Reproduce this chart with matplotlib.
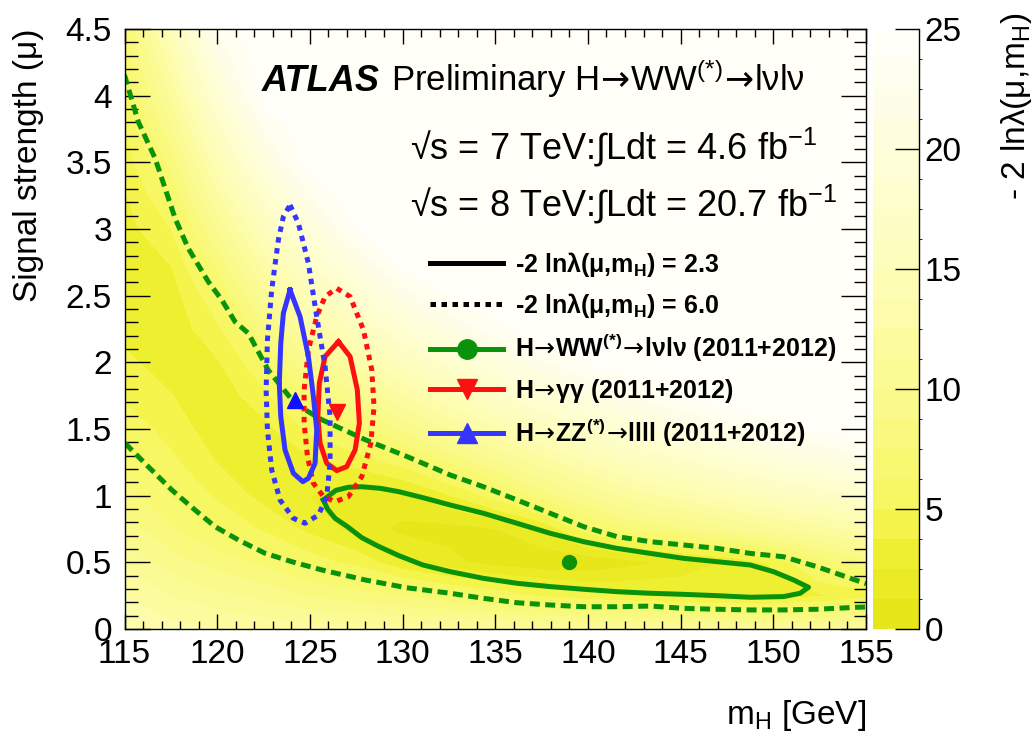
import numpy as np
import matplotlib
matplotlib.use('Agg')
import matplotlib.pyplot as plt
from matplotlib.colors import LinearSegmentedColormap, BoundaryNorm
from matplotlib.lines import Line2D
from matplotlib.ticker import MultipleLocator, FuncFormatter

plt.rcParams['font.family'] = ['Liberation Sans', 'DejaVu Sans']
plt.rcParams['mathtext.fontset'] = 'custom'
plt.rcParams['mathtext.rm'] = 'Liberation Sans'
plt.rcParams['mathtext.it'] = 'Liberation Sans:italic'
plt.rcParams['mathtext.bf'] = 'Liberation Sans:bold'
plt.rcParams['mathtext.sf'] = 'DejaVu Sans'

# -2 ln lambda surface, one list per m_H column
mh_grid = [115, 117.5, 120, 122.5, 125, 127.5, 130, 132.5, 135, 137.5,
           140, 142.5, 145, 147.5, 150, 152.5, 155]
mu_grid = [0, 0.25, 0.5, 0.75, 1.0, 1.25, 1.5, 1.75, 2.0, 2.25, 2.5,
           2.75, 3.0, 3.25, 3.5, 3.75, 4.0, 4.25, 4.5]
nll_columns = [
    [14.0, 12.5, 11.0, 9.4, 8.0, 6.8, 5.7, 4.8, 4.0, 3.4, 3.1, 3.0, 3.2, 3.6, 4.2, 4.9, 5.6, 6.3, 7.2],
    [13.0, 11.2, 9.3, 7.6, 6.2, 5.3, 4.5, 3.8, 3.2, 2.9, 3.1, 3.8, 5.0, 6.3, 7.9, 9.6, 11.4, 13.2, 15.0],
    [12.5, 10.3, 8.2, 6.1, 4.8, 3.7, 3.0, 2.9, 3.6, 4.7, 6.0, 7.9, 10.0, 12.2, 14.4, 16.6, 18.8, 21.0, 23.0],
    [12.0, 9.6, 7.1, 4.8, 3.3, 2.7, 3.3, 4.6, 6.1, 8.3, 10.6, 13.0, 15.4, 17.8, 20.2, 22.5, 24.8, 27.0, 27.0],
    [11.8, 8.6, 5.6, 3.4, 2.5, 3.4, 5.3, 7.5, 10.0, 12.5, 15.0, 17.5, 20.0, 22.4, 24.8, 27.0, 27.0, 27.0, 27.0],
    [11.7, 8.0, 4.6, 2.0, 1.6, 4.2, 6.9, 9.9, 12.8, 15.6, 18.4, 21.2, 24.0, 26.5, 27.0, 27.0, 27.0, 27.0, 27.0],
    [11.6, 7.4, 2.8, 0.9, 2.2, 5.4, 9.0, 12.4, 15.6, 18.7, 21.7, 24.5, 27.0, 27.0, 27.0, 27.0, 27.0, 27.0, 27.0],
    [11.5, 6.6, 1.6, 0.8, 3.6, 7.5, 11.2, 14.7, 18.0, 21.1, 24.0, 26.8, 27.0, 27.0, 27.0, 27.0, 27.0, 27.0, 27.0],
    [11.4, 5.8, 0.7, 1.2, 5.5, 9.6, 13.4, 17.0, 20.3, 23.4, 26.3, 27.0, 27.0, 27.0, 27.0, 27.0, 27.0, 27.0, 27.0],
    [11.3, 4.8, 0.2, 2.5, 8.0, 11.8, 15.5, 19.0, 22.2, 25.2, 27.0, 27.0, 27.0, 27.0, 27.0, 27.0, 27.0, 27.0, 27.0],
    [11.2, 4.2, 0.05, 5.8, 10.0, 13.8, 17.4, 20.8, 24.0, 27.0, 27.0, 27.0, 27.0, 27.0, 27.0, 27.0, 27.0, 27.0, 27.0],
    [11.2, 3.8, 0.9, 7.6, 11.8, 15.6, 19.2, 22.5, 25.6, 27.0, 27.0, 27.0, 27.0, 27.0, 27.0, 27.0, 27.0, 27.0, 27.0],
    [11.2, 3.4, 1.8, 8.6, 13.0, 17.0, 20.6, 24.0, 27.0, 27.0, 27.0, 27.0, 27.0, 27.0, 27.0, 27.0, 27.0, 27.0, 27.0],
    [11.2, 3.0, 2.6, 9.8, 14.3, 18.4, 22.0, 25.4, 27.0, 27.0, 27.0, 27.0, 27.0, 27.0, 27.0, 27.0, 27.0, 27.0, 27.0],
    [11.2, 2.9, 4.0, 11.0, 15.5, 19.6, 23.3, 26.7, 27.0, 27.0, 27.0, 27.0, 27.0, 27.0, 27.0, 27.0, 27.0, 27.0, 27.0],
    [11.4, 3.6, 6.8, 12.0, 16.5, 20.6, 24.3, 27.0, 27.0, 27.0, 27.0, 27.0, 27.0, 27.0, 27.0, 27.0, 27.0, 27.0, 27.0],
    [11.6, 4.4, 8.0, 13.0, 17.5, 21.5, 25.2, 27.0, 27.0, 27.0, 27.0, 27.0, 27.0, 27.0, 27.0, 27.0, 27.0, 27.0, 27.0],
]

# H->WW contours
ww68_mh = [125.73, 126.4, 127.08, 127.8, 128.8, 129.8, 131.1, 132.57, 134.36, 136.17, 137.96,
           139.76, 141.56, 143.36, 145.16, 146.96, 148.76, 150.01, 151.09, 151.9, 151.45, 150.55,
           148.76, 146.96, 145.16, 143.36, 141.56, 139.76, 137.96, 136.17, 134.36, 132.57, 131.1,
           129.8, 128.7, 127.8, 127.0, 126.36, 125.95, 125.73]
ww68_mu = [0.968, 1.04, 1.063, 1.067, 1.055, 1.03, 0.985, 0.93, 0.868, 0.793, 0.718,
           0.655, 0.605, 0.567, 0.53, 0.505, 0.48, 0.43, 0.368, 0.313, 0.268, 0.243,
           0.238, 0.25, 0.26, 0.268, 0.28, 0.298, 0.318, 0.343, 0.38, 0.43, 0.48,
           0.55, 0.62, 0.685, 0.77, 0.83, 0.9, 0.968]
ww95_up_mh = [115.0, 115.74, 116.65, 117.73, 118.44, 119.52, 120.24, 120.96, 121.68, 122.76, 124.2,
              125.64, 127.98, 130.3, 132.57, 134.36, 136.17, 137.96, 139.76, 141.56, 143.36,
              145.16, 146.96, 148.76, 150.55, 152.36, 155.0]
ww95_up_mu = [4.155, 3.805, 3.53, 3.08, 2.855, 2.605, 2.47, 2.305, 2.218, 1.94, 1.69,
              1.57, 1.42, 1.29, 1.155, 1.067, 0.968, 0.868, 0.768, 0.693, 0.655,
              0.63, 0.605, 0.567, 0.542, 0.467, 0.34]
ww95_lo_mh = [115.03, 116.28, 117.55, 118.8, 119.88, 121.14, 122.58, 124.02, 125.64, 127.98, 130.2,
              132.57, 134.36, 136.17, 137.96, 139.76, 141.56, 143.36, 145.16, 146.96, 148.76,
              150.55, 152.36, 154.51, 155.0]
ww95_lo_mu = [1.393, 1.218, 1.043, 0.893, 0.768, 0.668, 0.568, 0.505, 0.443, 0.368, 0.31,
              0.268, 0.23, 0.197, 0.18, 0.167, 0.167, 0.172, 0.155, 0.148, 0.143,
              0.143, 0.148, 0.163, 0.165]

# H->ZZ contours
zz68_mh = [123.93, 124.47, 124.92, 125.19, 125.37, 125.28, 124.92, 124.62, 124.11, 123.66,
           123.43, 123.35, 123.43, 123.57, 123.93]
zz68_mu = [2.543, 2.343, 2.043, 1.743, 1.493, 1.243, 1.13, 1.105, 1.168, 1.343,
           1.593, 1.843, 2.143, 2.368, 2.543]
zz95_mh = [123.93, 124.38, 124.92, 125.37, 125.82, 126.09, 126.09, 125.91, 125.46, 124.74,
           124.11, 123.39, 122.94, 122.71, 122.64, 122.71, 122.94, 123.3, 123.57, 123.93]
zz95_mu = [3.18, 3.043, 2.743, 2.343, 1.968, 1.593, 1.243, 0.993, 0.855, 0.793,
           0.83, 0.968, 1.193, 1.493, 1.793, 2.168, 2.543, 2.918, 3.093, 3.18]

# H->gamma gamma contours
gg68_mh = [126.54, 127.17, 127.56, 127.67, 127.44, 126.99, 126.45, 125.91, 125.55, 125.43,
           125.51, 125.82, 126.54]
gg68_mu = [2.155, 2.043, 1.793, 1.543, 1.343, 1.218, 1.188, 1.243, 1.393, 1.593,
           1.843, 2.043, 2.155]
gg95_mh = [126.45, 127.17, 127.89, 128.34, 128.46, 128.29, 127.8, 127.08, 126.36, 125.73,
           125.19, 124.87, 124.69, 124.69, 124.92, 125.37, 125.82, 126.45]
gg95_mu = [2.555, 2.493, 2.243, 1.943, 1.668, 1.393, 1.143, 0.993, 0.955, 0.993,
           1.093, 1.293, 1.543, 1.793, 2.093, 2.343, 2.493, 2.555]

# best fit points
ww_best = (139.0, 0.5)
gg_best = (126.48, 1.63)
zz_best = (124.2, 1.72)

green = '#0a930a'
red = '#ff1010'
blue = '#3535ff'
solid_lw = 3.6
ww_dash = (0, (2.0, 1.1))
dot = (0, (1.1, 1.1))
arrow = r'$\!\mathsf{\rightarrow}\!$'

fig = plt.figure(figsize=(10.36, 7.33), dpi=100)
ax = fig.add_axes([124.5 / 1036, 1 - 629 / 733, 741.5 / 1036, 600 / 733])
cax = fig.add_axes([872.7 / 1036, 1 - 629 / 733, 46.3 / 1036, 600 / 733])

cmap = LinearSegmentedColormap.from_list('nll', [
    (0.0, '#e6e61a'), (0.1, '#efef30'), (0.2, '#f7f762'), (0.4, '#fbfb92'),
    (0.6, '#fdfdb8'), (0.8, '#fefed9'), (1.0, '#fffff8')])
levels = np.linspace(0, 25, 21)
norm = BoundaryNorm(levels, cmap.N)

z = np.minimum(np.array(nll_columns).T, 25)
cf = ax.contourf(mh_grid, mu_grid, z, levels=levels, cmap=cmap, norm=norm)

# contours
ax.plot(ww95_up_mh, ww95_up_mu, color=green, lw=solid_lw, ls=ww_dash)
ax.plot(ww95_lo_mh, ww95_lo_mu, color=green, lw=solid_lw, ls=ww_dash)
ax.plot(ww68_mh, ww68_mu, color=green, lw=solid_lw)
ax.plot(gg95_mh, gg95_mu, color=red, lw=solid_lw, ls=dot)
ax.plot(gg68_mh, gg68_mu, color=red, lw=solid_lw)
ax.plot(zz95_mh, zz95_mu, color=blue, lw=solid_lw, ls=dot)
ax.plot(zz68_mh, zz68_mu, color=blue, lw=solid_lw)

ax.plot(*ww_best, marker='o', color=green, ms=10, ls='none')
ax.plot(*gg_best, marker='v', color=red, ms=11, ls='none')
ax.plot(*zz_best, marker='^', color='#1010ff', ms=11, ls='none')

ax.set_xlim(115, 155)
ax.set_ylim(0, 4.5)
ax.xaxis.set_major_locator(MultipleLocator(5))
ax.xaxis.set_minor_locator(MultipleLocator(1))
ax.yaxis.set_major_locator(MultipleLocator(0.5))
ax.yaxis.set_minor_locator(MultipleLocator(0.1))
ax.yaxis.set_major_formatter(FuncFormatter(lambda v, p: '%g' % v))
ax.tick_params(which='both', direction='in', top=True, right=True, labelsize=24, width=1)
ax.tick_params(axis='x', which='major', length=11, pad=7)
ax.tick_params(axis='x', which='minor', length=5.5)
ax.tick_params(axis='y', which='major', length=18, pad=9)
ax.tick_params(axis='y', which='minor', length=9)
for s in ax.spines.values():
    s.set_linewidth(1)

ax.set_xlabel(r'm$_{\mathregular{H}}$ [GeV]', fontsize=24, loc='right')
ax.xaxis.set_label_coords(1.0, -0.115)
ax.set_ylabel('Signal strength (μ)', fontsize=24, loc='top')
ax.yaxis.set_label_coords(-0.108, 1.0)

# labels
ax.text(0.185, 0.897, 'ATLAS', transform=ax.transAxes, fontsize=26,
        fontweight='bold', fontstyle='italic', va='baseline')
ax.text(0.36, 0.897, 'Preliminary H' + arrow + r'WW$^{\mathregular{(*)}}$' + arrow + 'lνlν',
        transform=ax.transAxes, fontsize=25, va='baseline')
ax.text(0.385, 0.782, r'√s = 7 TeV:∫Ldt = 4.6 fb$^{\mathregular{-1}}$', transform=ax.transAxes,
        fontsize=26, va='baseline')
ax.text(0.385, 0.687, r'√s = 8 TeV:∫Ldt = 20.7 fb$^{\mathregular{-1}}$', transform=ax.transAxes,
        fontsize=26, va='baseline')

handles = [
    Line2D([], [], color='k', lw=solid_lw),
    Line2D([], [], color='k', lw=solid_lw, ls=dot),
    Line2D([], [], color=green, lw=solid_lw, marker='o', ms=14),
    Line2D([], [], color=red, lw=solid_lw, marker='v', ms=15),
    Line2D([], [], color=blue, lw=solid_lw, marker='^', ms=15),
]
labels = [
    r'-2 lnλ(μ,m$_{\mathregular{H}}$) = 2.3',
    r'-2 lnλ(μ,m$_{\mathregular{H}}$) = 6.0',
    'H' + arrow + r'WW$^{\mathregular{(*)}}$' + arrow + 'lνlν (2011+2012)',
    'H' + arrow + 'γγ (2011+2012)',
    'H' + arrow + r'ZZ$^{\mathregular{(*)}}$' + arrow + 'llll (2011+2012)',
]
leg = ax.legend(handles, labels, loc='upper left', bbox_to_anchor=(0.4115, 0.632),
                frameon=False, prop={'size': 18, 'weight': 'bold'},
                handlelength=2.95, handletextpad=0.45, labelspacing=0.49,
                borderaxespad=0, borderpad=0)

# colour bar
cb = fig.colorbar(cf, cax=cax, ticks=[0, 5, 10, 15, 20, 25])
cb.outline.set_visible(False)
cax.plot([1, 1], [0, 1], transform=cax.transAxes, color='k', lw=1, clip_on=False)
cax.tick_params(direction='in', length=17, width=1, labelsize=24, pad=4)
cax.yaxis.set_major_formatter(FuncFormatter(lambda v, p: '%g' % v))
fig.text(1017 / 1036, 1 - 12 / 733, r'- 2 lnλ(μ,m$_{\mathregular{H}}$)', rotation=90,
         fontsize=24, ha='center', va='top')

fig.savefig('out.png', dpi=100)
